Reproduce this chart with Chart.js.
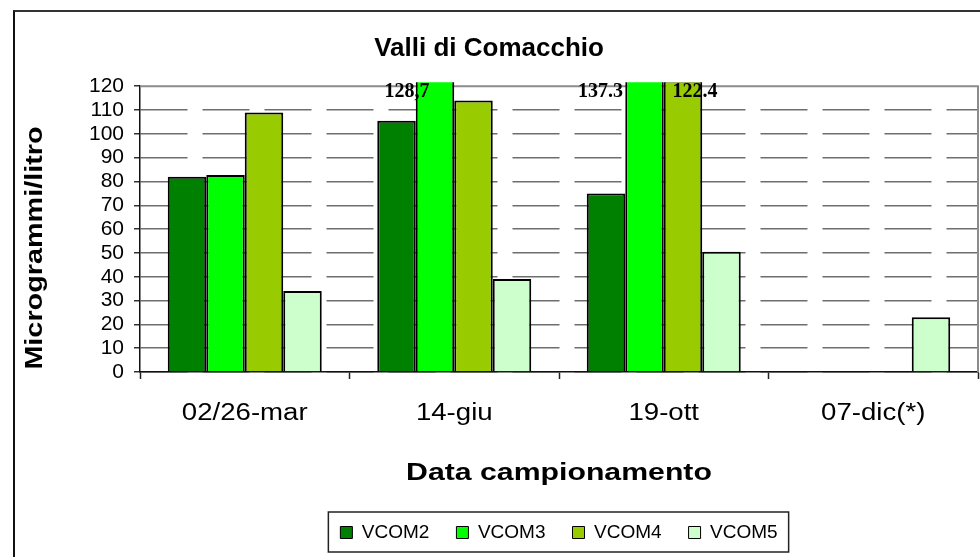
<!DOCTYPE html>
<html>
<head>
<meta charset="utf-8">
<title>Valli di Comacchio</title>
<script src="https://cdn.jsdelivr.net/npm/chart.js@4.4.0/dist/chart.umd.min.js"></script>
<style>
  html, body { margin: 0; padding: 0; background: #fff; overflow: hidden; }
  #wrap { position: relative; width: 980px; height: 557px; }
  #frame { position: absolute; left: 13px; top: 10px; width: 1000px; height: 600px;
           border-left: 2px solid #111; border-top: 2px solid #333; }
  #chart { position: absolute; left: 0; top: 0; }
</style>
</head>
<body>
<div id="wrap">
  <div id="frame"></div>
  <canvas id="chart" width="980" height="557"></canvas>
</div>
<script>
const categories = ['02/26-mar', '14-giu', '19-ott', '07-dic(*)'];
const seriesNames = ['VCOM2', 'VCOM3', 'VCOM4', 'VCOM5'];
const vcom2 = [82, 105.5, 75, null];
const vcom3 = [82.7, 128.7, 137.3, null];
const vcom4 = [109, 114, 122.4, null];
const vcom5 = [34, 39, 50.5, 23];
const seriesColors = ['#008000', '#00ff00', '#99cc00', '#ccffcc'];
const yMin = 0;
const yMax = 120;
const yStep = 10;
const xTitle = 'Data campionamento';
const yTitle = 'Microgrammi/litro';

// values above the axis maximum get written at the top of the plot
const overflowLabels = [
  { series: 1, index: 1, text: '128,7', dx: -28 },
  { series: 1, index: 2, text: '137.3', dx: -44 },
  { series: 2, index: 2, text: '122.4', dx: 12 }
];

const FONT = 'Arial, "Liberation Sans", sans-serif';

const plotFrame = {
  id: 'plotFrame',
  beforeDatasetsDraw(chart) {
    const { ctx, chartArea } = chart;
    ctx.save();
    ctx.strokeStyle = '#8c8c8c';
    ctx.lineWidth = 2;
    ctx.beginPath();
    ctx.moveTo(chartArea.left, chartArea.top);
    ctx.lineTo(chartArea.right, chartArea.top);
    ctx.lineTo(chartArea.right, chartArea.bottom);
    ctx.stroke();
    ctx.restore();
  }
};

const topLabels = {
  id: 'topLabels',
  afterDatasetsDraw(chart) {
    const { ctx, chartArea } = chart;
    ctx.save();
    ctx.font = 'bold 20px "Liberation Serif", "Times New Roman", serif';
    ctx.fillStyle = '#000';
    ctx.textAlign = 'center';
    ctx.textBaseline = 'middle';
    overflowLabels.forEach(l => {
      const bar = chart.getDatasetMeta(l.series).data[l.index];
      ctx.fillText(l.text, bar.x + l.dx, chartArea.top + 6);
    });
    ctx.restore();
  }
};

// category names and axis titles come out a bit wide, so they are drawn here stretched
function wideText(ctx, text, x, y, font, stretch) {
  ctx.save();
  ctx.translate(x, y);
  ctx.scale(stretch, 1);
  ctx.font = font;
  ctx.fillText(text, 0, 0);
  ctx.restore();
}

const axisText = {
  id: 'axisText',
  afterDraw(chart) {
    const { ctx, chartArea, scales } = chart;
    ctx.save();
    ctx.fillStyle = '#000';
    ctx.textAlign = 'center';
    ctx.textBaseline = 'middle';
    categories.forEach((c, i) => {
      wideText(ctx, c, scales.x.getPixelForValue(i), chartArea.bottom + 42, '23px ' + FONT, 1.2);
    });
    wideText(ctx, xTitle, (chartArea.left + chartArea.right) / 2, chartArea.bottom + 101, 'bold 24px ' + FONT, 1.26);
    ctx.translate(35, 248);
    ctx.rotate(-Math.PI / 2);
    wideText(ctx, yTitle, 0, 0, 'bold 24px ' + FONT, 1.2);
    ctx.restore();
  }
};

const legendBox = {
  id: 'legendBox',
  afterDraw(chart) {
    const boxes = chart.legend.legendHitBoxes;
    if (!boxes.length) return;
    const left = Math.min(...boxes.map(b => b.left)) - 12;
    const right = Math.max(...boxes.map(b => b.left + b.width)) + 11;
    const top = Math.min(...boxes.map(b => b.top)) - 11;
    const bottom = Math.max(...boxes.map(b => b.top + b.height)) + 10;
    const ctx = chart.ctx;
    ctx.save();
    ctx.strokeStyle = '#222';
    ctx.lineWidth = 1.5;
    ctx.strokeRect(left, top, right - left, bottom - top);
    ctx.restore();
  }
};

const seriesData = [vcom2, vcom3, vcom4, vcom5];

new Chart(document.querySelector('#chart'), {
  type: 'bar',
  data: {
    labels: categories,
    datasets: seriesNames.map((name, i) => ({
      label: name,
      data: seriesData[i],
      backgroundColor: seriesColors[i],
      borderColor: '#000',
      borderWidth: 2,
      categoryPercentage: 0.735,
      barPercentage: 1,
      clip: { left: 0, top: 4, right: 0, bottom: 0 }
    }))
  },
  options: {
    responsive: false,
    animation: false,
    layout: { padding: { left: 0, right: 2, top: 0, bottom: 5 } },
    scales: {
      x: {
        offset: true,
        grid: { offset: true, drawOnChartArea: false, drawTicks: true, tickLength: 7, tickColor: '#222', tickWidth: 1.5 },
        border: { color: '#111', width: 1.5 },
        ticks: { display: false },
        afterFit(scale) { scale.height = 124; }
      },
      y: {
        min: yMin,
        max: yMax,
        grid: {
          color: ctx => ctx.tick && ctx.tick.value === yMax ? 'rgba(0,0,0,0)' : '#6e6e6e',
          lineWidth: 1.5,
          drawTicks: true,
          tickLength: 6,
          tickColor: '#333',
          tickWidth: 1.5
        },
        border: { color: '#111', width: 1.5, dash: [47, 15] },
        ticks: { stepSize: yStep, autoSkip: false, color: '#000', padding: 10, font: { family: FONT, size: 21 } },
        afterFit(scale) { scale.width = 140; }
      }
    },
    plugins: {
      title: {
        display: true,
        text: 'Valli di Comacchio',
        color: '#000',
        font: { family: FONT, size: 26, weight: 'bold', lineHeight: 1.2 },
        padding: { top: 33, bottom: 22 }
      },
      legend: {
        position: 'bottom',
        fullSize: false,
        labels: {
          color: '#000',
          boxWidth: 12,
          boxHeight: 12,
          padding: 27,
          font: { family: FONT, size: 19 },
          generateLabels: chart => Chart.defaults.plugins.legend.labels.generateLabels(chart)
            .map(item => ({ ...item, lineWidth: 1 }))
        }
      },
      tooltip: { enabled: false }
    }
  },
  plugins: [plotFrame, topLabels, axisText, legendBox]
});
</script>
</body>
</html>
